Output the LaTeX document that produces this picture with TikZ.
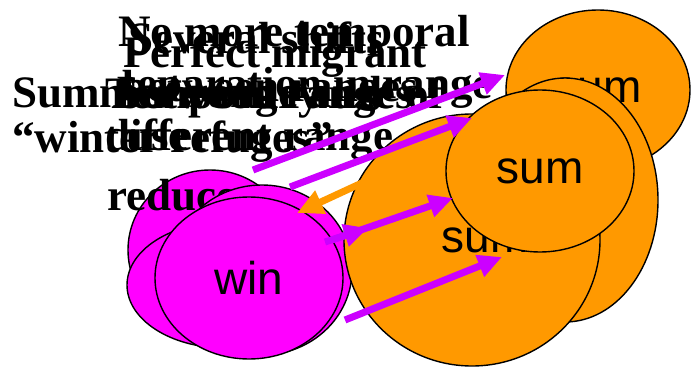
\documentclass[tikz,border=0pt]{standalone}
\usepackage{fontspec}
\setmainfont{Liberation Serif}
\setsansfont{Liberation Sans}
\usetikzlibrary{shapes.geometric,arrows.meta}
\definecolor{mag}{HTML}{FF00FF}
\definecolor{org}{HTML}{FF9900}
\definecolor{pur}{HTML}{CC00FF}
\tikzset{
  blob/.style={ellipse, draw=black, line width=1.4pt, inner sep=0pt,
    font=\sffamily\fontsize{46}{50}\selectfont},
  winb/.style={blob, fill=mag},
  sumb/.style={blob, fill=org},
  txt/.style={anchor=base west, inner sep=0pt,
    font=\bfseries\fontsize{45}{52}\selectfont},
  parr/.style={draw=pur, fill=pur, line width=7pt,
    -{Triangle[length=24pt,width=22pt]}},
  oarr/.style={draw=org, fill=org, line width=7pt,
    -{Triangle[length=26pt,width=24pt]}}
}
\begin{document}
\begin{tikzpicture}[x=1pt,y=-1pt]
\useasboundingbox (0,0) rectangle (691,369);
% back magenta ellipse
\node[winb, minimum width=164pt, minimum height=160pt] (wa) at (210,250) {};
% texts
\node[txt] (a1) at (118,47) {No more temporal};
\node[txt] (a2) at (120,99) {separation in range};
\node[txt] (a3) at (126,150) {use};
\node[txt] (b1) at (128,54) {Several shifts};
\node[txt] (b2) at (122,101) {between ranges};
\node[txt] (c1) at (123,68) {Perfect migrant};
\node[txt] (c2) at (117,108) {between ranges};
\node[txt] (d1) at (12,107) {Summer range and};
\node[txt] (d2) at (12,152) {“winter refuges”};
\node[txt] (d3) at (107,210) {reduces};
\node[txt] (e1) at (105,108) {Temporary use of};
\node[txt] (e2) at (105,150) {different range};
% front magenta ellipses
\node[winb, minimum width=196pt, minimum height=126pt] (wb) at (225,285) {};
\node[winb, minimum width=180pt, minimum height=170pt] (wd) at (262,270) {};
\node[winb, minimum width=188pt, minimum height=162pt] (wc) at (249,278) {win};
% orange ellipses
\node[sumb, minimum width=184pt, minimum height=160pt] (sa) at (598,90) {sum};
\node[sumb, minimum width=186pt, minimum height=244pt] (sb) at (565,200) {sum};
\node[sumb, minimum width=256pt, minimum height=252pt] (sc) at (472,240) {\hspace*{26pt}sum};
\node[sumb, minimum width=188pt, minimum height=162pt] (sd) at (540,171) {sum};
% arrows
\coordinate (p1s) at (253,170);
\coordinate (p1e) at (505,75);
\coordinate (p2s) at (290,187);
\coordinate (p2e) at (472,118);
\coordinate (p3s) at (325,242);
\coordinate (p3m) at (368,228);
\coordinate (p3t) at (332,240);
\coordinate (p3e) at (453,198);
\coordinate (p4s) at (345,320);
\coordinate (p4e) at (502,257);
\coordinate (o1s) at (390,170);
\coordinate (o1e) at (297,213);
\draw[oarr] (o1s) -- (o1e);
\draw[parr] (p1s) -- (p1e);
\draw[parr] (p2s) -- (p2e);
\draw[parr] (p3s) -- (p3m);
\draw[parr] (p3t) -- (p3e);
\draw[parr] (p4s) -- (p4e);
\end{tikzpicture}
\end{document}
